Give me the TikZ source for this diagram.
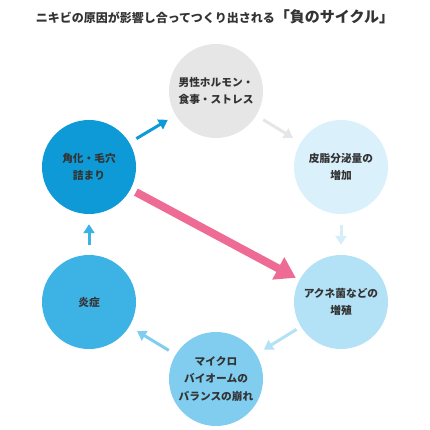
\documentclass[tikz,border=0pt]{standalone}
\usepackage{fontspec}
\setmainfont{Noto Sans CJK JP}
\usetikzlibrary{arrows.meta}
\definecolor{txt}{HTML}{333333}
\definecolor{cgray}{HTML}{E6E6E6}
\definecolor{csebum}{HTML}{DAF0FB}
\definecolor{cacne}{HTML}{B3E1F6}
\definecolor{cmicro}{HTML}{80CDEF}
\definecolor{cinfl}{HTML}{3DB3E5}
\definecolor{cpore}{HTML}{0D9AD6}
\definecolor{cpink}{HTML}{EE6B96}
\begin{document}
\begin{tikzpicture}[x=1pt,y=-1pt,
    ball/.style={circle,minimum size=94pt,inner sep=0pt,align=center,text=txt,
      font=\bfseries\fontsize{10.7}{17.5}\selectfont},
    arr/.style={line width=3pt,-{Triangle[length=9pt,width=11pt]},shorten <=8pt,shorten >=9pt}]
  \useasboundingbox (0,0) rectangle (430,430);
  \node[text=txt,font=\bfseries] (title) at (215,17)
    {\fontsize{12}{14}\selectfont ニキビの原因が影響し合ってつくり出される\fontsize{15}{17}\selectfont「負のサイクル」};
  \node[ball,fill=cgray] (horm) at (216,91) {男性ホルモン・\\食事・ストレス};
  \node[ball,fill=csebum] (sebum) at (341,167) {皮脂分泌量の\\増加};
  \node[ball,fill=cacne] (acne) at (341,302) {アクネ菌などの\\増殖};
  \node[ball,fill=cmicro] (micro) at (216,379) {マイクロ\\バイオームの\\バランスの崩れ};
  \node[ball,fill=cinfl] (infl) at (89,302) {炎症};
  \node[ball,fill=cpore] (pore) at (89,167) {角化・毛穴\\詰まり};
  \draw[arr,cpore] (pore) -- (horm);
  \draw[arr,cgray] (horm) -- (sebum);
  \draw[arr,csebum!85!cacne,shorten <=11pt,shorten >=10pt] (sebum) -- (acne);
  \draw[arr,cacne,shorten <=5pt] (acne) -- (micro);
  \draw[arr,cmicro] (micro) -- (infl);
  \draw[arr,cinfl,shorten <=10pt,shorten >=10pt] (infl) -- (pore);
  \draw[cpink,line width=8pt,-{Triangle[length=20pt,width=24pt]},shorten <=6pt,shorten >=4pt] (pore) -- (acne);
\end{tikzpicture}
\end{document}
